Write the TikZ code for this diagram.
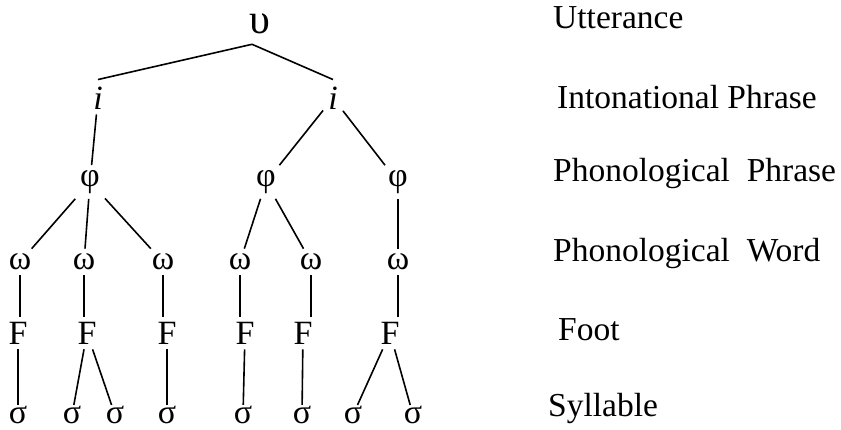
\documentclass[tikz,border=0pt]{standalone}
\usepackage{fontspec}
\setmainfont{Liberation Serif}
\tikzset{
  pros node/.style={inner sep=5pt,font=\fontsize{34}{40}\selectfont},
  pros leaf/.style={pros node,inner ysep=1pt},
  pros label/.style={anchor=west,inner sep=0pt,font=\fontsize{33.5}{40}\selectfont},
  pros edge/.style={line width=1.6pt}
}

\begin{document}
\begin{tikzpicture}[x=1pt,y=-1pt]
  \useasboundingbox (0,0) rectangle (841,430);
  % the tree
  \node[pros node,font=\fontsize{42}{48}\selectfont] (u) at (260,24) {υ};
  \node[pros node] (i1) at (98,98) {\itshape i};
  \node[pros node] (i2) at (333,98) {\itshape i};
  \foreach \n/\x in {1/90,2/266,3/398}{\node[pros node] (p\n) at (\x,182) {φ};}
  \foreach \n/\x in {1/20,2/84,3/163,4/240,5/311,6/398}{\node[pros node] (w\n) at (\x,262) {ω};}
  \foreach \n/\x in {1/18,2/87,3/167,4/245,5/303,6/390}{\node[pros node] (f\n) at (\x,333) {F};}
  \foreach \n/\x in {1/18,2/72,3/115,4/167,5/243,6/302,7/353,8/413}{\node[pros leaf] (s\n) at (\x,415) {σ};}
  \draw[pros edge] ([shift={(-8pt,-5pt)}]u.south) -- ([yshift=2pt]i1.north);
  \draw[pros edge] ([shift={(-8pt,-5pt)}]u.south) -- ([yshift=2pt]i2.north);
  \draw[pros edge] (i1) -- (p1);
  \draw[pros edge] (i2) -- (p2);
  \draw[pros edge] (i2) -- (p3);
  \foreach \a/\b in {p1/w1,p1/w2,p1/w3,p2/w4,p2/w5,p3/w6}{\draw[pros edge] (\a) -- (\b);}
  \foreach \n in {1,...,6}{\draw[pros edge] (w\n.south) -- (w\n |- f\n.north);}
  \foreach \a/\b in {f1/s1,f2/s2,f2/s3,f3/s4,f4/s5,f5/s6,f6/s7,f6/s8}{\draw[pros edge] (\a) -- (\b);}
  % level names
  \node[pros label] (lu) at (553,18) {Utterance};
  \node[pros label] (li) at (557,97) {Intonational Phrase};
  \node[pros label] (lp) at (553,173) {Phonological\enspace Phrase};
  \node[pros label] (lw) at (553,253) {Phonological\enspace Word};
  \node[pros label] (lf) at (558,330) {Foot};
  \node[pros label] (ls) at (548,408) {Syllable};
\end{tikzpicture}
\end{document}
